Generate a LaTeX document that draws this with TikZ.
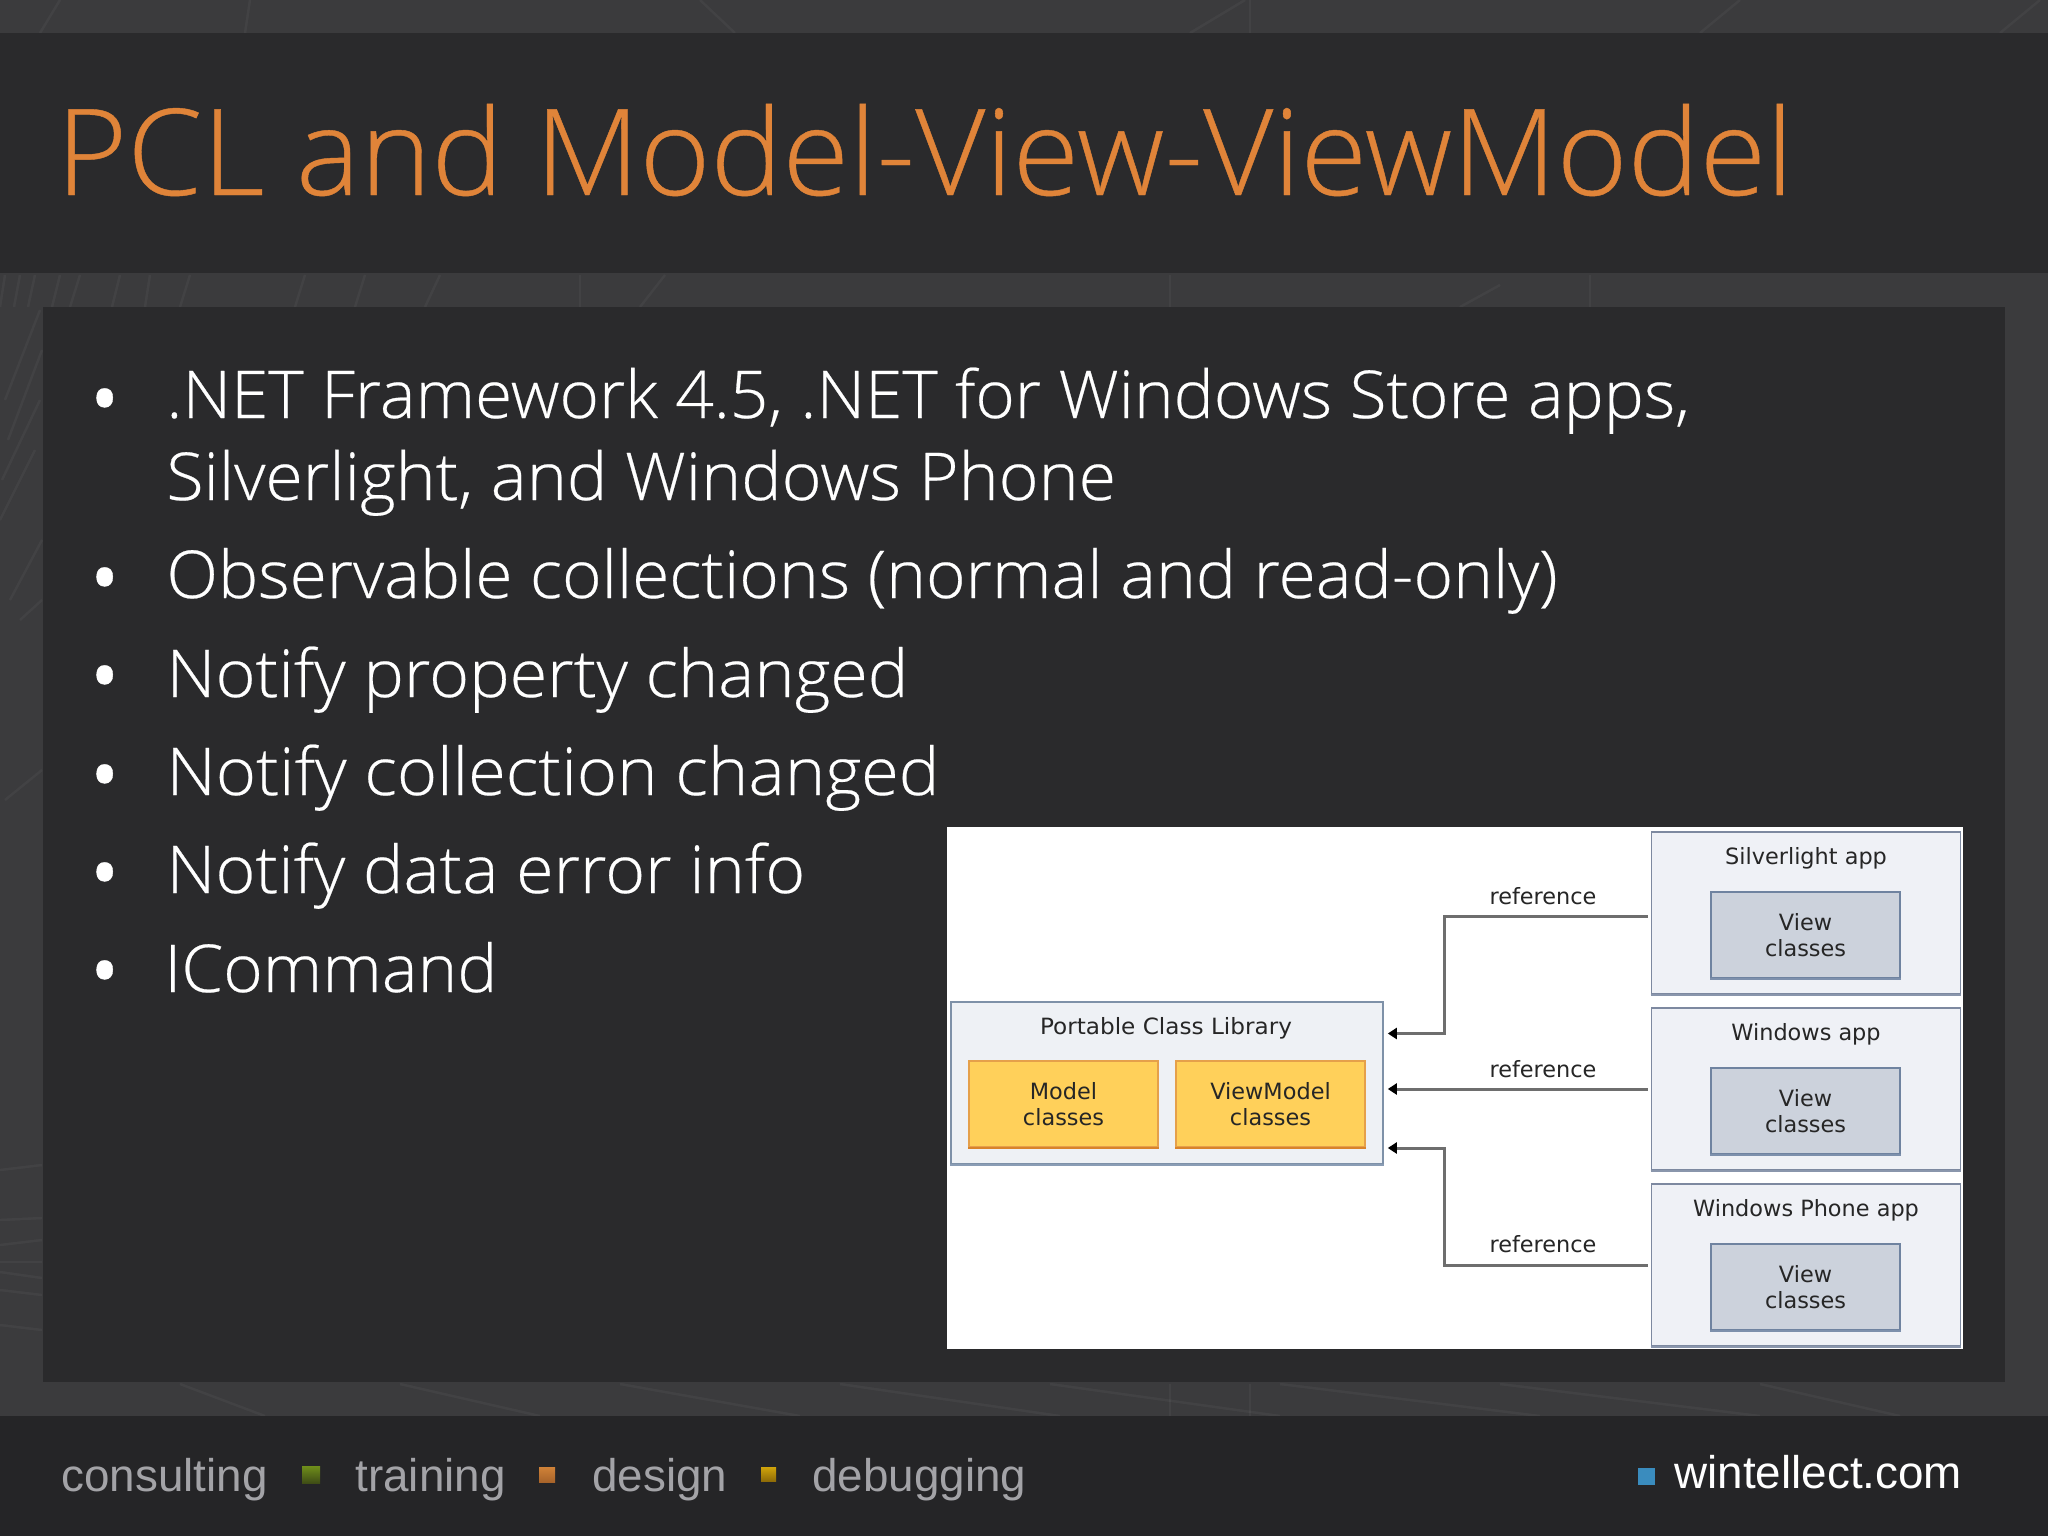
\documentclass[tikz,border=0pt]{standalone}
\usepackage{fontspec}
\usepackage{graphicx}
\setmainfont{Open Sans}[UprightFont={* Light},UprightFeatures={FakeBold=0.35}]
\newfontfamily\dejavu{DejaVu Sans}
\newfontfamily\libsans{Liberation Sans}
\usetikzlibrary{arrows.meta}
\definecolor{bgc}{HTML}{3B3B3D}
\definecolor{panelc}{HTML}{2A2A2C}
\definecolor{footc}{HTML}{252527}
\definecolor{titlec}{HTML}{E08439}
\definecolor{foott}{HTML}{A3A3A7}
\definecolor{appedge}{HTML}{7D89A0}
\definecolor{appfill}{HTML}{EFF1F6}
\definecolor{libedge}{HTML}{7E91A8}
\definecolor{libfill}{HTML}{EEF1F5}
\definecolor{viewedge}{HTML}{6F83A0}
\definecolor{viewfill}{HTML}{CCD2DC}
\definecolor{classedge}{HTML}{E5A04A}
\definecolor{classfill}{HTML}{FFD05A}
\definecolor{connc}{HTML}{6E6E6E}
\definecolor{markgreen}{HTML}{6F8E1A}
\definecolor{markgreend}{HTML}{3F4D16}
\definecolor{markorange}{HTML}{D08238}
\definecolor{markoranged}{HTML}{A8642A}
\definecolor{markyellow}{HTML}{D0A40A}
\definecolor{markyellowd}{HTML}{8F6C08}
\definecolor{markblue}{HTML}{3A8CBE}
\newcommand{\fitw}[2]{\resizebox{#1pt}{\height}{#2}}
\tikzset{
  x=0.5pt,y=-0.5pt,
  streak/.style={draw=white,draw opacity=0.04,line width=#1},
  streak/.default=1pt,
  titletext/.style={anchor=base west,inner sep=0pt,text=titlec,font=\fontsize{60}{60}\selectfont},
  bodytext/.style={anchor=base west,inner sep=0pt,text=white,font=\fontsize{33}{33}\selectfont},
  bullettext/.style={anchor=base west,inner sep=0pt,text=white,font=\fontsize{54}{54}\selectfont},
  foottext/.style={anchor=base west,inner sep=0pt,text=foott,font=\libsans\fontsize{22.9}{22.9}\selectfont},
  diag/.style={font=\dejavu\fontsize{11.2}{13.2}\selectfont,text=black!85,align=center,inner sep=0pt},
  appbox/.style={draw=appedge,fill=appfill,line width=0.8pt,minimum width=154.5pt,minimum height=81pt,inner sep=0pt},
  libbox/.style={draw=libedge,fill=libfill,line width=0.8pt,minimum width=216pt,minimum height=81pt,inner sep=0pt},
  viewbox/.style={diag,draw=viewedge,fill=viewfill,line width=0.8pt,minimum width=94.5pt,minimum height=43pt},
  classbox/.style={diag,draw=classedge,fill=classfill,line width=0.8pt,minimum width=94.5pt,minimum height=43pt},
  conn/.style={draw=connc,line width=1.5pt},
  connarrow/.style={conn,-{Triangle[length=4.5pt,width=5.5pt,black]}},
}
\begin{document}
\begin{tikzpicture}
\useasboundingbox (0,0) rectangle (2048,1536);
% background and texture
\fill[bgc] (0,0) rectangle (2048,1536);
\foreach \a/\b/\c/\d in {60/0/40/33, 250/0/245/33, 700/0/735/33, 1190/33/1245/0, 1700/33/1740/0, 1250/0/1250/33, 2000/33/2040/0,
  5/275/0/307, 20/275/14/307, 35/275/28/307, 60/275/52/307, 80/275/70/307, 120/275/112/307, 150/275/145/307, 190/275/180/307, 305/275/295/307, 365/275/355/307, 440/275/425/307, 580/275/580/307, 665/275/640/307, 1170/275/1170/307, 1500/285/1460/307, 1590/275/1590/307,
  40/310/5/400, 42/350/8/440, 40/400/2/480, 35/450/0/520, 42/540/10/600, 42/600/20/620, 42/770/5/800,
  0/1170/42/1165, 0/1220/42/1218, 0/1245/42/1240, 0/1262/42/1262, 0/1272/42/1278, 0/1290/42/1295, 0/1325/42/1330,
  180/1384/265/1416, 400/1384/540/1416, 620/1384/800/1416, 840/1384/1060/1416, 1050/1384/1280/1416, 1280/1384/1540/1416, 1500/1384/1760/1416, 1760/1384/1900/1416, 1170/1384/1170/1416, 1250/1384/1250/1416}
  {\draw[streak=1.2pt] (\a,\b) -- (\c,\d);}
% bands
\fill[panelc] (0,33) rectangle (2048,273);
\fill[panelc] (43,307) rectangle (2005,1382);
\fill[footc] (0,1416) rectangle (2048,1536);
% title
\node[titletext] (title) at (56,195) {\fitw{868.5}{PCL and Model-View-ViewModel}};
% bullets
\node[bullettext] (b1) at (84,437.3) {•};
\node[bullettext] (b3) at (84,616.3) {•};
\node[bullettext] (b4) at (84,714.3) {•};
\node[bullettext] (b5) at (84,813.3) {•};
\node[bullettext] (b6) at (84,911.3) {•};
\node[bullettext] (b7) at (84,1009.3) {•};
\node[bodytext] (l1) at (166,418) {\fitw{761.6}{.NET Framework 4.5, .NET for Windows Store apps,}};
\node[bodytext] (l2) at (166,500) {\fitw{474.8}{Silverlight, and Windows Phone}};
\node[bodytext] (l3) at (166,598) {\fitw{695.5}{Observable collections (normal and read-only)}};
\node[bodytext] (l4) at (166,697) {\fitw{371}{Notify property changed}};
\node[bodytext] (l5) at (166,795) {\fitw{386.6}{Notify collection changed}};
\node[bodytext] (l6) at (166,893) {\fitw{319.4}{Notify data error info}};
\node[bodytext] (l7) at (164,992) {\fitw{166.5}{ICommand}};
% picture
\fill[white] (947,827) rectangle (1963,1349);
\node[libbox] (pcl) at (1167,1083) {};
\node[diag] (pcltitle) at (1166,1028.5) {\fitw{126}{Portable Class Library}};
\node[classbox] (model) at (1063.5,1104) {Model\\classes};
\node[classbox] (vm) at (1270.5,1104) {ViewModel\\classes};
\node[appbox] (sl) at (1806,913) {};
\node[appbox] (win) at (1806,1089) {};
\node[appbox] (ph) at (1806,1265) {};
\node[diag] (sltitle) at (1806,858) {Silverlight app};
\node[diag] (wintitle) at (1806,1034) {Windows app};
\node[diag] (phtitle) at (1806,1210) {Windows Phone app};
\node[viewbox] (v1) at (1805.5,935) {View\\classes};
\node[viewbox] (v2) at (1805.5,1111) {View\\classes};
\node[viewbox] (v3) at (1805.5,1287) {View\\classes};
\foreach \n/\c in {model/D9832A,vm/D9832A,pcl/8A9DB5,sl/8A96AC,win/8A96AC,ph/8A96AC,v1/7D90AC,v2/7D90AC,v3/7D90AC}
  {\definecolor{tmpc}{HTML}{\c}\draw[tmpc,line width=1.1pt] (\n.south west) -- (\n.south east);}
% connectors
\coordinate (s1) at ([xshift=-1.5pt,yshift=-1.5pt]sl.west);
\coordinate (s2) at ([xshift=-1.5pt]win.west);
\coordinate (s3) at ([xshift=-1.5pt]ph.west);
\coordinate (t1) at ([xshift=2pt,yshift=24.75pt]pcl.east);
\coordinate (t2) at ([xshift=2pt]pcl.east);
\coordinate (t3) at ([xshift=2pt,yshift=-32.5pt]pcl.east);
\coordinate (j1) at (1444,0);
\draw[connarrow] (s1) -- (s1 -| j1) -- (t1 -| j1) -- (t1);
\draw[connarrow] (s2) -- (s2 -| t2);
\draw[connarrow] (s3) -- (s3 -| j1) -- (t3 -| j1) -- (t3);
\node[diag] (r1) at (1543,896) {reference};
\node[diag] (r2) at (1543,1069) {reference};
\node[diag] (r3) at (1543,1244) {reference};
% footer
\node[foottext] (f1) at (61,1491) {consulting};
\shade[top color=markgreen,bottom color=markgreend] (302,1466) rectangle (320,1483);
\node[foottext] (f2) at (355,1491) {training};
\shade[top color=markorange,bottom color=markoranged] (539,1467) rectangle (555,1482);
\node[foottext] (f3) at (592,1491) {design};
\shade[top color=markyellow,bottom color=markyellowd] (761,1467) rectangle (776,1481);
\node[foottext] (f4) at (812,1491) {debugging};
\fill[markblue] (1638,1468) rectangle (1655,1485);
\node[foottext,text=white] (f5) at (1674,1488) {wintellect.com};
\end{tikzpicture}
\end{document}
